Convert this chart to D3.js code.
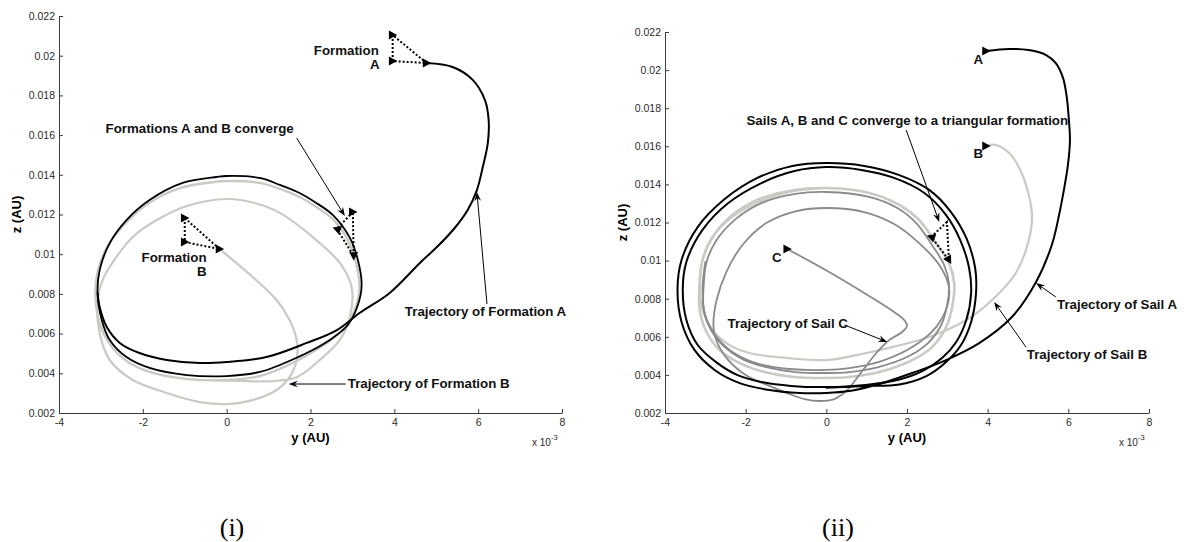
<!DOCTYPE html>
<html><head><meta charset="utf-8">
<script src="https://cdn.jsdelivr.net/npm/d3@7"></script>
<style>body{margin:0;background:#fff}svg{display:block}</style>
</head><body><svg id="c" width="1184" height="542"></svg>
<script>
// ---------- DATA (y, z in units of 1e-3 AU) ----------
const xTicks = [-4, -2, 0, 2, 4, 6, 8];
const zTicks = [2, 4, 6, 8, 10, 12, 14, 16, 18, 20, 22];

// Panel (i)
const orbitA_L = [[0,13.94],[0.79,13.84],[1.27,13.49],[1.74,13.08],[2.10,12.63],[2.53,11.98],[2.94,10.82],[3.13,9.71],[3.22,8.45],[3.13,7.44],[2.89,6.43],[2.53,5.78],[2.05,5.17],[1.27,4.42],[0.79,4.07],[0,3.86],[-0.95,3.91],[-1.84,4.27],[-2.39,4.82],[-2.79,5.68],[-2.98,6.69],[-3.08,8.05],[-3.03,9.20],[-2.79,10.56],[-2.39,11.72],[-1.84,12.73],[-1.05,13.59],[-0.24,13.89]];
const approachA_L = [[4.77,19.63],[5.39,19.43],[5.87,18.78],[6.16,17.77],[6.25,16.76],[6.23,15.60],[6.11,14.39],[5.97,13.23],[5.75,12.23],[5.44,11.32],[5.04,10.41],[4.61,9.56],[3.89,8.05],[3.17,7.04],[2.63,6.18],[1.91,5.53],[0.95,4.82],[0,4.57],[-0.64,4.52],[-1.43,4.67],[-2.08,5.02],[-2.55,5.53],[-2.86,6.33],[-3.03,7.34],[-3.08,8.05]];
const orbitB_L = [[0,13.69],[0.79,13.59],[1.27,13.29],[1.74,12.88],[2.10,12.43],[2.53,11.77],[2.89,10.72],[3.08,9.61],[3.17,8.35],[3.08,7.34],[2.84,6.33],[2.48,5.68],[2.01,5.02],[1.27,4.22],[0.79,3.86],[0,3.66],[-0.95,3.71],[-1.84,4.07],[-2.39,4.62],[-2.79,5.48],[-3.03,6.53],[-3.13,7.94],[-3.08,9.10],[-2.84,10.41],[-2.43,11.52],[-1.89,12.53],[-1.10,13.34],[-0.29,13.64]];
const approachB_L = [[-0.17,10.26],[0.62,8.85],[1.19,7.69],[1.50,6.69],[1.67,5.68],[1.67,4.67],[1.50,3.81],[1.19,3.16],[0.62,2.65],[0,2.45],[-0.64,2.55],[-1.43,3.01],[-2.24,3.66],[-2.79,4.67],[-3.03,6.03],[-3.08,7.69],[-2.96,8.70],[-2.63,9.86],[-2.24,10.87],[-1.67,11.72],[-0.95,12.43],[0,12.78],[0.67,12.58],[1.27,12.08],[2.05,10.87],[2.70,9.56],[2.98,8.35],[2.94,6.84],[2.70,5.68],[2.22,4.67],[1.67,3.80],[1.03,3.60],[0.31,3.62],[-0.29,3.66]];
const formA_L = [[3.96,21.04],[3.96,19.73],[4.77,19.63]];
const formB_L = [[-1.0,11.82],[-1.0,10.61],[-0.17,10.26]];
const formEnd_L = [[3.01,12.13],[2.63,11.27],[3.03,9.91]];

// Panel (ii)
const orbitA_R = [[0,14.91],[0.87,14.76],[1.68,14.34],[2.43,13.55],[2.97,12.39],[3.32,11.08],[3.54,9.61],[3.59,8.30],[3.47,6.88],[3.22,5.73],[2.87,4.89],[2.38,4.20],[1.76,3.73],[0.97,3.47],[0,3.36],[-0.87,3.42],[-1.61,3.63],[-2.20,3.99],[-2.70,4.62],[-3.19,5.57],[-3.47,6.88],[-3.56,8.46],[-3.47,9.93],[-3.07,11.61],[-2.43,13.02],[-1.61,14.07],[-0.79,14.70]];
const approachA_R = [[3.96,21.00],[4.53,21.11],[5.02,21.05],[5.45,20.79],[5.69,20.37],[5.87,19.58],[5.96,18.59],[6.01,17.48],[6.04,16.33],[5.99,15.02],[5.89,13.71],[5.77,12.39],[5.59,10.82],[5.20,8.88],[4.60,7.04],[3.79,5.67],[2.97,4.78],[2.13,4.10],[1.31,3.52],[0.57,3.15],[0,3.05],[-0.67,3.05],[-1.41,3.21],[-2.15,3.57],[-2.77,4.26],[-3.27,5.31],[-3.59,6.78],[-3.69,8.46],[-3.59,10.03],[-3.19,11.76],[-2.52,13.23],[-1.71,14.34],[-0.84,14.97],[0,15.12],[0.94,14.97],[1.81,14.49],[2.55,13.71],[3.09,12.55],[3.47,11.19],[3.69,9.61],[3.71,8.25],[3.59,6.78],[3.34,5.57],[2.97,4.68],[2.48,3.94],[1.81,3.50],[0.97,3.42],[0,3.33]];
const orbitB_R = [[0,13.81],[1.06,13.55],[1.81,12.92],[2.30,12.13],[2.72,10.92],[3.04,9.87],[3.17,8.82],[3.12,7.56],[2.97,6.51],[2.62,5.46],[2.13,4.78],[1.31,4.15],[0.57,3.89],[0,3.84],[-0.79,3.89],[-1.53,4.15],[-2.15,4.62],[-2.65,5.31],[-2.97,6.25],[-3.14,7.41],[-3.14,8.72],[-3.07,10.03],[-2.82,11.24],[-2.33,12.39],[-1.66,13.23],[-0.79,13.71]];
const approachB_R = [[3.96,16.01],[4.21,16.07],[4.58,15.54],[4.83,14.65],[5.02,13.44],[5.10,12.39],[5.02,11.08],[4.70,9.35],[4.11,7.93],[3.47,6.88],[2.55,5.99],[1.63,5.46],[0.99,5.15],[0,4.78],[-0.99,4.89],[-1.91,5.15],[-2.48,5.67],[-2.82,6.36],[-3.07,7.41],[-3.14,8.61],[-3.07,10.03],[-2.82,11.24],[-2.33,12.29],[-1.73,13.02],[-0.92,13.60],[0,13.81]];
const orbitC_R = [[0,13.60],[1.06,13.34],[1.76,12.76],[2.23,11.97],[2.62,10.82],[2.92,9.77],[3.04,8.77],[2.99,7.62],[2.85,6.62],[2.52,5.67],[2.05,4.99],[1.29,4.41],[0.57,4.15],[0,4.10],[-0.77,4.15],[-1.49,4.41],[-2.08,4.83],[-2.55,5.52],[-2.87,6.41],[-3.04,7.46],[-3.04,8.72],[-2.97,9.93],[-2.72,11.08],[-2.25,12.18],[-1.61,13.02],[-0.77,13.50]];
const approachC_R = [[-0.97,10.61],[0.07,9.40],[1.06,8.14],[1.68,7.30],[1.93,6.88],[2.00,6.57],[1.88,6.25],[1.56,5.83],[1.24,5.15],[0.87,4.15],[0.52,3.21],[0.20,2.73],[-0.17,2.63],[-0.54,2.73],[-0.92,3.00],[-1.41,3.42],[-1.96,3.94],[-2.45,4.83],[-2.75,5.94],[-2.80,6.62],[-2.72,7.93],[-2.48,9.40],[-2.08,10.82],[-1.49,11.97],[-0.74,12.60],[0,12.76],[0.94,12.55],[1.68,11.92],[2.30,10.92],[2.80,9.77],[3.04,8.61],[2.99,7.56],[2.72,6.51],[2.13,5.46],[1.31,4.68],[0.57,4.36],[0,4.26],[-0.92,4.31],[-1.66,4.57],[-2.25,5.10],[-2.70,5.94],[-3.00,7.09],[-3.07,8.46],[-3.00,9.93]];
const formEnd_R = [[2.99,12.03],[2.60,11.24],[3.04,10.03]];

// Annotations (anchor points in data units)
const labelsL = [
  ['Formations A and B converge', -2.89, 16.11, 'start'],
  ['Formation', 3.63, 20.04, 'end'],
  ['A', 3.65, 19.33, 'end'],
  ['Formation', -0.48, 9.61, 'end'],
  ['B', -0.48, 8.90, 'end'],
  ['Trajectory of Formation A', 4.25, 6.89, 'start'],
  ['Trajectory of Formation B', 2.89, 3.26, 'start']
];
const arrowsL = [[[1.67,15.85],[2.82,11.92]], [[6.21,7.49],[5.97,13.13]], [[2.84,3.46],[1.48,3.46]]];
const labelsR = [
  ['Sails A, B and C converge to a triangular formation', -1.98, 17.12, 'start'],
  ['A', 3.89, 20.32, 'end'],
  ['B', 3.89, 15.38, 'end'],
  ['C', -1.11, 9.93, 'end'],
  ['Trajectory of Sail A', 5.72, 7.46, 'start'],
  ['Trajectory of Sail B', 4.97, 4.83, 'start'],
  ['Trajectory of Sail C', -2.45, 6.46, 'start']
];
const arrowsR = [[[1.98,16.85],[2.80,12.03]], [[5.69,8.09],[5.20,8.82]], [[4.95,5.46],[4.16,7.83]], [[0.45,6.62],[1.51,5.73]]];

// ---------- DRAWING ----------
const svg = d3.select('#c');
const FONT = "'Liberation Sans', Arial, Helvetica, sans-serif";
const C_BLACK = '#000', C_LIGHT = '#cbc9c3', C_MID = '#8a8a8a';

function makePanel(xr, yr, caption) {
  const x = d3.scaleLinear().domain([-4, 8]).range(xr);
  const y = d3.scaleLinear().domain([2, 22]).range(yr);
  const g = svg.append('g');
  const xa = d3.axisBottom(x).tickValues(xTicks).tickSizeInner(-4).tickSizeOuter(0).tickPadding(6).tickFormat(d => String(d));
  const ya = d3.axisLeft(y).tickValues(zTicks).tickSizeInner(-4).tickSizeOuter(0).tickPadding(4).tickFormat(d => String(+(d / 1000).toFixed(3)));
  const gx = g.append('g').attr('transform', `translate(0,${yr[0]})`).call(xa);
  const gy = g.append('g').attr('transform', `translate(${xr[0]},0)`).call(ya);
  [gx, gy].forEach(a => {
    a.selectAll('path,line').attr('stroke', '#3c3c3c').attr('stroke-width', 1);
    a.selectAll('text').attr('fill', '#2a2a2a').style('font-family', FONT).style('font-size', '10.5px');
  });
  const xm = (xr[0] + xr[1]) / 2, ym = (yr[0] + yr[1]) / 2;
  g.append('text').attr('x', xm).attr('y', yr[0] + 29).attr('text-anchor', 'middle')
    .style('font-family', FONT).style('font-size', '13px').style('font-weight', 'bold').text('y (AU)');
  g.append('text').attr('transform', `translate(${xr[0] - 43},${ym}) rotate(-90)`).attr('text-anchor', 'middle')
    .attr('dominant-baseline', 'central')
    .style('font-family', FONT).style('font-size', '13px').style('font-weight', 'bold').text('z (AU)');
  const sc = g.append('text').attr('x', xr[1] - 30).attr('y', yr[0] + 33)
    .style('font-family', FONT).style('font-size', '10px').attr('fill', '#2a2a2a');
  sc.append('tspan').text('x 10');
  sc.append('tspan').attr('dy', -6).style('font-size', '7.5px').text('-3');
  g.append('text').attr('x', xr[0] + 173).attr('y', 536).attr('text-anchor', 'middle')
    .style('font-family', "'Liberation Serif', 'DejaVu Serif', serif").style('font-size', '26px').text(caption);
  return {x, y, g};
}

function curve(p, data, color, w, closed) {
  const ln = d3.line().x(d => p.x(d[0])).y(d => p.y(d[1]))
    .curve(closed ? d3.curveCatmullRomClosed : d3.curveCatmullRom);
  p.g.append('path').attr('d', ln(data)).attr('fill', 'none').attr('stroke', color)
    .attr('stroke-width', w).attr('stroke-linejoin', 'round').attr('stroke-linecap', 'round');
}
function dottedTri(p, data) {
  const ln = d3.line().x(d => p.x(d[0])).y(d => p.y(d[1])).curve(d3.curveLinearClosed);
  p.g.append('path').attr('d', ln(data)).attr('fill', 'none').attr('stroke', '#000')
    .attr('stroke-width', 2).attr('stroke-dasharray', '2,2');
}
function marker(p, pt, ang) {
  p.g.append('path').attr('d', 'M-3.8,-4.5L4.6,0L-3.8,4.5Z').attr('fill', '#000')
    .attr('transform', `translate(${p.x(pt[0])},${p.y(pt[1])}) rotate(${ang})`);
}
function labels(p, list) {
  list.forEach(([t, a, b, anc]) => p.g.append('text').attr('x', p.x(a)).attr('y', p.y(b))
    .attr('text-anchor', anc).style('font-family', FONT).style('font-size', '13.3px')
    .style('font-weight', 'bold').attr('fill', '#111').text(t));
}
function arrows(p, list) {
  list.forEach(([s, e]) => {
    const x0 = p.x(s[0]), y0 = p.y(s[1]), x1 = p.x(e[0]), y1 = p.y(e[1]);
    const dx = x1 - x0, dy = y1 - y0, L = Math.hypot(dx, dy), ux = dx / L, uy = dy / L;
    const hl = 9, hw = 3.3, notch = 3;
    const bx = x1 - ux * hl, by = y1 - uy * hl, nx = x1 - ux * (hl - notch), ny = y1 - uy * (hl - notch);
    p.g.append('line').attr('x1', x0).attr('y1', y0).attr('x2', nx).attr('y2', ny)
      .attr('stroke', '#000').attr('stroke-width', 1);
    p.g.append('path').attr('d', `M${x1},${y1}L${bx - uy * hw},${by + ux * hw}L${nx},${ny}L${bx + uy * hw},${by - ux * hw}Z`)
      .attr('fill', '#000');
  });
}

// Panel (i)
const P1 = makePanel([59, 562], [413, 16], '(i)');
curve(P1, orbitB_L, C_LIGHT, 2.4, true);
curve(P1, approachB_L, C_LIGHT, 2.2, false);
curve(P1, orbitA_L, C_BLACK, 1.8, true);
curve(P1, approachA_L, C_BLACK, 2, false);
dottedTri(P1, formA_L); dottedTri(P1, formB_L); dottedTri(P1, formEnd_L);
formA_L.forEach(d => marker(P1, d, 0));
formB_L.forEach(d => marker(P1, d, 0));
marker(P1, formEnd_L[0], 0); marker(P1, formEnd_L[1], 200); marker(P1, formEnd_L[2], 90);
labels(P1, labelsL); arrows(P1, arrowsL);

// Panel (ii)
const P2 = makePanel([665, 1149], [413, 32], '(ii)');
curve(P2, orbitB_R, C_LIGHT, 2.6, true);
curve(P2, approachB_R, C_LIGHT, 2.2, false);
curve(P2, orbitC_R, C_MID, 1.8, true);
curve(P2, approachC_R, C_MID, 1.8, false);
curve(P2, orbitA_R, C_BLACK, 2, true);
curve(P2, approachA_R, C_BLACK, 2, false);
dottedTri(P2, formEnd_R);
marker(P2, approachA_R[0], 0); marker(P2, approachB_R[0], 0); marker(P2, approachC_R[0], 0);
marker(P2, formEnd_R[1], 200); marker(P2, formEnd_R[2], 60);
labels(P2, labelsR); arrows(P2, arrowsR);
</script></body></html>
